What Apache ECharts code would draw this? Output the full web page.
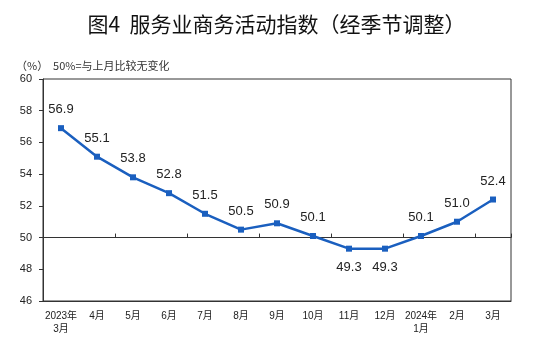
<!DOCTYPE html>
<html>
<head>
<meta charset="utf-8">
<script src="https://cdn.jsdelivr.net/npm/echarts@6/dist/echarts.min.js"></script>
<style>html,body{margin:0;padding:0;background:#fff;}#c{width:553px;height:343px;}</style>
</head>
<body>
<div id="c"></div>
<script>
const categories = ['2023年\n3月','4月','5月','6月','7月','8月','9月','10月','11月','12月','2024年\n1月','2月','3月'];
const values = [56.9, 55.1, 53.8, 52.8, 51.5, 50.5, 50.9, 50.1, 49.3, 49.3, 50.1, 51.0, 52.4];
const yTicks = {min: 46, max: 60, interval: 2};
const baseline = 50;
const titleText = '图4  服务业商务活动指数（经季节调整）';
const noteText = '（%）  50%=与上月比较无变化';

const GT = 79, GH = 222, GL = 43, GW = 468;
const midOffset = -GH * (baseline - yTicks.min) / (yTicks.max - yTicks.min);

const chart = echarts.init(document.getElementById('c'), null, {renderer: 'canvas'});
chart.setOption({
  animation: false,
  backgroundColor: '#fff',
  title: [
    {text: titleText, left: 'center', top: 9,
     textStyle: {fontFamily: 'Noto Sans CJK SC', fontSize: 21, fontWeight: 'normal', color: '#111'}},
    {text: noteText, left: 11, top: 55,
     textStyle: {fontFamily: 'Noto Sans CJK SC', fontSize: 11, fontWeight: 'normal', color: '#333'}}
  ],
  grid: {left: GL, top: GT, width: GW, height: GH, show: true, borderColor: '#333', borderWidth: 1, backgroundColor: 'transparent'},
  xAxis: [
    {type: 'category', data: categories, position: 'bottom', boundaryGap: true,
     axisLine: {show: true, onZero: false, lineStyle: {color: '#333', width: 1}},
     axisTick: {show: false},
     axisLabel: {fontSize: 10, color: '#222', fontFamily: 'Liberation Sans, Noto Sans CJK SC', margin: 9, lineHeight: 13, interval: 0}},
    {type: 'category', data: categories, position: 'bottom', offset: midOffset, boundaryGap: true,
     axisLine: {show: true, onZero: false, lineStyle: {color: '#333', width: 1}},
     axisTick: {show: true, inside: true, length: 4, lineStyle: {color: '#333'}},
     axisLabel: {show: false}}
  ],
  yAxis: {type: 'value', min: yTicks.min, max: yTicks.max, interval: yTicks.interval,
    axisLine: {show: true, lineStyle: {color: '#333'}},
    axisTick: {show: true, length: 4, lineStyle: {color: '#333'}},
    splitLine: {show: false},
    axisLabel: {fontSize: 11, color: '#222', fontFamily: 'Liberation Sans', margin: 11}},
  series: [{
    type: 'line', xAxisIndex: 0,
    data: values.map(v => v < baseline ? {value: v, label: {position: 'bottom'}} : v),
    symbol: 'rect', symbolSize: 6,
    lineStyle: {color: '#1a5fbf', width: 2.5},
    itemStyle: {color: '#1a5fbf'},
    label: {show: true, position: 'top', distance: 9, fontSize: 13, color: '#222', fontFamily: 'Liberation Sans',
      formatter: p => p.value.toFixed(1)}
  }]
});
</script>
</body>
</html>
